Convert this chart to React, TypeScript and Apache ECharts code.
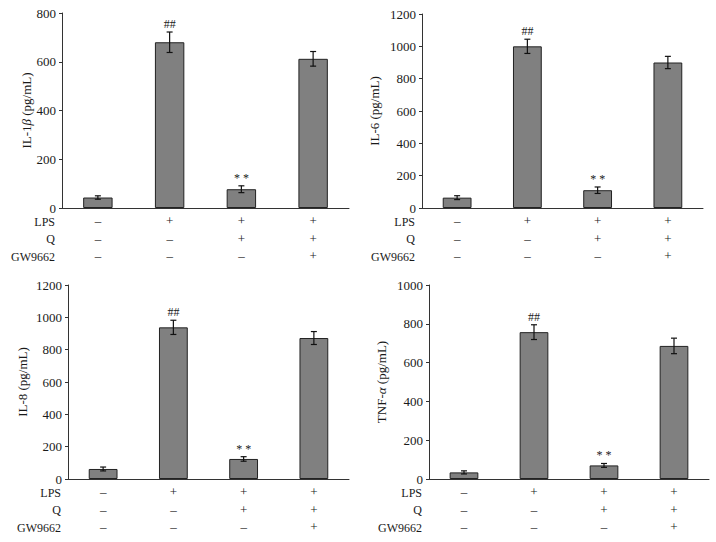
import React, { useEffect, useRef } from "react";
import * as echarts from "echarts";

const categories = ["ctrl", "LPS", "LPS+Q", "LPS+Q+GW"];
const rowLabels = ["LPS", "Q", "GW9662"];
const lpsRow = ["–", "+", "+", "+"];
const qRow = ["–", "–", "+", "+"];
const gwRow = ["–", "–", "–", "+"];
const annotations = ["", "##", "**", ""];

const il1bMean = [43, 680, 77, 612];
const il1bErr = [7, 42, 14, 30];
const il6Mean = [64, 1000, 110, 900];
const il6Err = [12, 44, 20, 38];
const il8Mean = [62, 938, 124, 872];
const il8Err = [12, 44, 14, 40];
const tnfMean = [34, 757, 70, 686];
const tnfErr = [8, 38, 10, 40];

const yNames = [
  "{a|IL-1}{i|β}{a| (pg/mL)}",
  "{a|IL-6 (pg/mL)}",
  "{a|IL-8 (pg/mL)}",
  "{a|TNF-}{i|α}{a| (pg/mL)}",
];
const yMax = [800, 1200, 1200, 1000];

const FONT = "'Liberation Serif', 'Times New Roman', serif";
const TEXT = "#1a1a1a";

export default function App() {
  const ref = useRef<HTMLDivElement>(null);
  useEffect(() => {
    if (!ref.current) return;
    const chart = echarts.init(ref.current, null, { renderer: "svg" });
    const grids = [
      { left: 62, top: 13, width: 287, height: 195 },
      { left: 422, top: 14, width: 281, height: 194 },
      { left: 68, top: 285, width: 281, height: 194 },
      { left: 429, top: 285, width: 280, height: 194 },
    ];
    const nameGaps = [28, 41, 39, 41];
    const means = [il1bMean, il6Mean, il8Mean, tnfMean];
    const errs = [il1bErr, il6Err, il8Err, tnfErr];

    const xAxes = grids.map((_, i) => ({
      type: "category",
      gridIndex: i,
      data: categories,
      boundaryGap: true,
      axisLine: { lineStyle: { color: "#333", width: 1 } },
      axisTick: { inside: true, length: 3, lineStyle: { color: "#333" } },
      axisLabel: {
        margin: 4,
        fontFamily: FONT,
        fontSize: 13,
        color: TEXT,
        lineHeight: 17.5,
        formatter: (_v: string, idx: number) =>
          lpsRow[idx] + "\n" + qRow[idx] + "\n" + gwRow[idx],
      },
    }));
    const yAxes = grids.map((_, i) => ({
      type: "value",
      gridIndex: i,
      min: 0,
      max: yMax[i],
      interval: 200,
      splitLine: { show: false },
      axisLine: { show: true, lineStyle: { color: "#333", width: 1 } },
      axisTick: { show: true, inside: false, length: 3, lineStyle: { color: "#333" } },
      axisLabel: {
        margin: 6,
        fontFamily: FONT,
        fontSize: 13,
        color: TEXT,
        formatter: (v: number) => String(v),
      },
      name: yNames[i],
      nameLocation: "middle",
      nameGap: nameGaps[i],
      nameTextStyle: {
        fontFamily: FONT,
        fontSize: 13,
        color: TEXT,
        rich: {
          a: { fontFamily: FONT, fontSize: 13, color: TEXT },
          i: { fontFamily: FONT, fontSize: 13, color: TEXT, fontStyle: "italic" },
        },
      },
    }));

    const series: any[] = [];
    grids.forEach((_, i) => {
      series.push({
        type: "bar",
        xAxisIndex: i,
        yAxisIndex: i,
        data: means[i],
        barWidth: "41%",
        itemStyle: { color: "#808080", borderColor: "#222", borderWidth: 1 },
        silent: true,
      });
      series.push({
        type: "custom",
        xAxisIndex: i,
        yAxisIndex: i,
        data: means[i].map((m, k) => [k, m, errs[i][k]]),
        z: 10,
        renderItem: (params: any, api: any) => {
          const x = api.value(0);
          const m = api.value(1);
          const e = api.value(2);
          const top = api.coord([x, m + e]);
          const bot = api.coord([x, m - e]);
          const cap = 3;
          const st = { stroke: "#111", lineWidth: 1.2 };
          const children: any[] = [
            { type: "line", shape: { x1: top[0], y1: top[1], x2: bot[0], y2: bot[1] }, style: st },
            { type: "line", shape: { x1: top[0] - cap, y1: top[1], x2: top[0] + cap, y2: top[1] }, style: st },
            { type: "line", shape: { x1: bot[0] - cap, y1: bot[1], x2: bot[0] + cap, y2: bot[1] }, style: st },
          ];
          const ann = annotations[params.dataIndex];
          if (ann) {
            children.push({
              type: "text",
              x: top[0],
              y: top[1] - 8,
              style: {
                text: ann === "**" ? "* *" : ann,
                fontFamily: FONT,
                fontSize: 12,
                fill: TEXT,
                align: "center",
                verticalAlign: "middle",
              },
            });
          }
          return { type: "group", children };
        },
      });
    });

    const rowOffsets = [13.5, 31, 48.5];
    const graphics: any[] = [];
    grids.forEach((g) => {
      const axisY = g.top + g.height;
      rowLabels.forEach((lab, r) => {
        graphics.push({
          type: "text",
          x: g.left - 7,
          y: axisY + rowOffsets[r],
          style: {
            text: lab,
            fontFamily: FONT,
            fontSize: 12,
            fill: TEXT,
            align: "right",
            verticalAlign: "middle",
          },
        });
      });
    });

    chart.setOption({
      animation: false,
      backgroundColor: "#ffffff",
      grid: grids,
      xAxis: xAxes,
      yAxis: yAxes,
      series,
      graphic: graphics,
    });
    return () => chart.dispose();
  }, []);
  return (
    <div
      ref={ref}
      style={{ position: "fixed", left: 0, top: 0, width: 716, height: 542, background: "#fff" }}
    />
  );
}
